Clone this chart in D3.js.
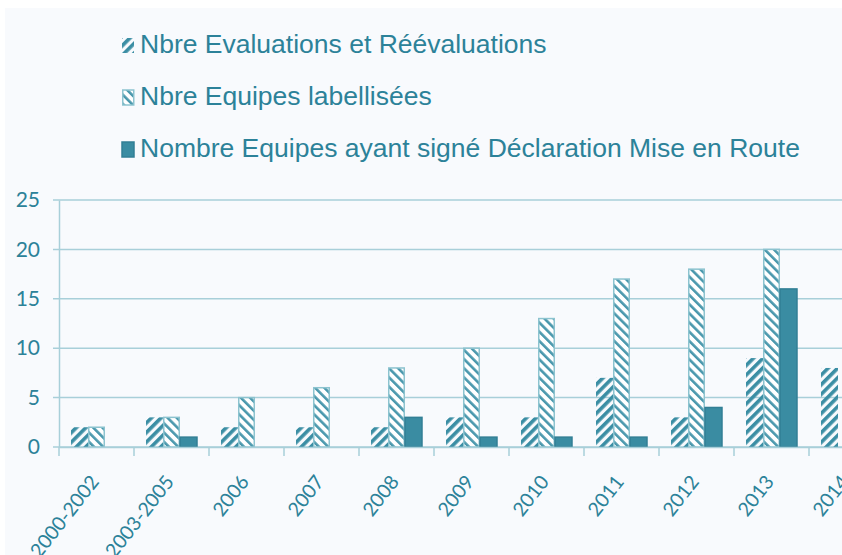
<!doctype html>
<html>
<head>
    <meta charset="utf-8">
    <style>
        body {
            margin: 0;
            background: #fff;
        }

        svg {
            display: block;
        }

        .legend text {
            font-family: "Liberation Sans", Arial, sans-serif;
            font-size: 26.5px;
            fill: #2c8299;
        }

        .axis text {
            font-family: Lato, "Open Sans", sans-serif;
            fill: #2c8299;
        }

        .grid line {
            stroke: #a8cfd9;
            stroke-width: 1.5;
        }
    </style>
    <script src="https://d3js.org/d3.v7.min.js"></script>
</head>
<body>
<script>
    const categories = ['2000-2002', '2003-2005', '2006', '2007', '2008', '2009', '2010', '2011', '2012', '2013', '2014']
    const seriesNames = [
        'Nbre Evaluations et Réévaluations',
        'Nbre Equipes labellisées',
        'Nombre Equipes ayant signé Déclaration Mise en Route'
    ]
    const evaluations = [2, 3, 2, 2, 2, 3, 3, 7, 3, 9, 8]
    const labellisees = [2, 3, 5, 6, 8, 10, 13, 17, 18, 20, null] // 2014 cut off
    const miseEnRoute = [0, 1, 0, 0, 3, 1, 1, 1, 4, 16, null]
    const yTicks = [0, 5, 10, 15, 20, 25]

    const seriesValues = [evaluations, labellisees, miseEnRoute]

    const W = 842, H = 555
    const teal = '#3b8ea4'

    const svg = d3.select('body').append('svg')
        .attr('width', W)
        .attr('height', H)

    // light panel behind the chart
    svg.append('rect')
        .attr('x', 5).attr('y', 8)
        .attr('width', W).attr('height', H)
        .attr('fill', '#f8fafd')

    const defs = svg.append('defs')

    // "//" hatch, no border
    const p1 = defs.append('pattern')
        .attr('id', 'hatchUp')
        .attr('patternUnits', 'userSpaceOnUse')
        .attr('width', 6.8).attr('height', 6.8)
        .attr('patternTransform', 'rotate(45)')
    p1.append('rect').attr('width', 3.6).attr('height', 6.8).attr('fill', teal)

    // "\\" hatch, white background
    const p2 = defs.append('pattern')
        .attr('id', 'hatchDown')
        .attr('patternUnits', 'userSpaceOnUse')
        .attr('width', 6.5).attr('height', 6.5)
        .attr('patternTransform', 'rotate(-45)')
    p2.append('rect').attr('width', 6.5).attr('height', 6.5).attr('fill', '#fff')
    p2.append('rect').attr('width', 2.6).attr('height', 6.5).attr('fill', '#4a98ad')

    const styles = [
        {fill: 'url(#hatchUp)', stroke: 'none'},
        {fill: 'url(#hatchDown)', stroke: '#8cc3cf'},
        {fill: '#3a8ca2', stroke: '#327f95'}
    ]

    const x0 = d3.scaleBand()
        .domain(categories)
        .range([59, 59 + categories.length * 75])

    const x1 = d3.scaleBand()
        .domain(d3.range(seriesNames.length))
        .range([12, 63])

    const y = d3.scaleLinear()
        .domain([0, 25])
        .range([447, 200])

    // gridlines
    svg.append('g')
        .attr('class', 'grid')
        .selectAll('line')
        .data(yTicks)
        .join('line')
        .attr('x1', 53).attr('x2', W)
        .attr('y1', d => y(d)).attr('y2', d => y(d))

    // y axis
    const yAxis = svg.append('g')
        .attr('class', 'axis')
        .attr('transform', 'translate(59,0)')
        .call(d3.axisLeft(y).tickValues(yTicks).tickSize(0).tickPadding(19))
    yAxis.select('.domain').attr('stroke', '#a8cfd9').attr('stroke-width', 1.5)
    yAxis.selectAll('text').style('font-size', '21px')

    // bars
    const groups = svg.append('g')
        .selectAll('g')
        .data(categories)
        .join('g')
        .attr('transform', d => `translate(${x0(d)},0)`)

    groups.selectAll('rect')
        .data((d, i) => seriesValues.map((vals, s) => ({s: s, v: vals[i]})).filter(e => e.v != null && e.v > 0))
        .join('rect')
        .attr('x', d => x1(d.s) + (d.s === 1 ? 0.75 : 0))
        .attr('width', d => x1.bandwidth() - (d.s === 1 ? 1.5 : 0))
        .attr('y', d => y(d.v))
        .attr('height', d => y(0) - y(d.v))
        .attr('fill', d => styles[d.s].fill)
        .attr('stroke', d => styles[d.s].stroke)
        .attr('stroke-width', 1.5)

    // x axis
    const xAxis = svg.append('g')
        .attr('class', 'axis')
        .attr('transform', `translate(0,${y(0)})`)
        .call(d3.axisBottom(x0).tickSize(0).tickPadding(0))
    xAxis.select('.domain').attr('stroke', '#a8cfd9').attr('stroke-width', 1.5)
    xAxis.selectAll('text')
        .style('font-size', '19.5px')
        .attr('text-anchor', 'end')
        .attr('y', 0)
        .attr('dy', 0)
        .attr('transform', 'translate(3.5,35) rotate(-52)')

    // category separators
    svg.append('g')
        .selectAll('line')
        .data(categories.concat(['end']))
        .join('line')
        .attr('x1', (d, i) => 59 + i * x0.step())
        .attr('x2', (d, i) => 59 + i * x0.step())
        .attr('y1', y(0)).attr('y2', y(0) + 9)
        .attr('stroke', '#a8cfd9')
        .attr('stroke-width', 1.5)

    // legend
    const legend = svg.append('g')
        .attr('class', 'legend')
        .selectAll('g')
        .data(seriesNames)
        .join('g')
        .attr('transform', (d, i) => `translate(122,${53 + i * 52})`)

    legend.append('rect')
        .attr('x', (d, i) => i === 1 ? 0.75 : 0)
        .attr('y', -15)
        .attr('width', (d, i) => i === 1 ? 11 : 12)
        .attr('height', 15)
        .attr('fill', (d, i) => styles[i].fill)
        .attr('stroke', (d, i) => styles[i].stroke)
        .attr('stroke-width', 1.5)

    legend.append('text')
        .attr('x', 18)
        .attr('y', 0)
        .text(d => d)
</script>
</body>
</html>
